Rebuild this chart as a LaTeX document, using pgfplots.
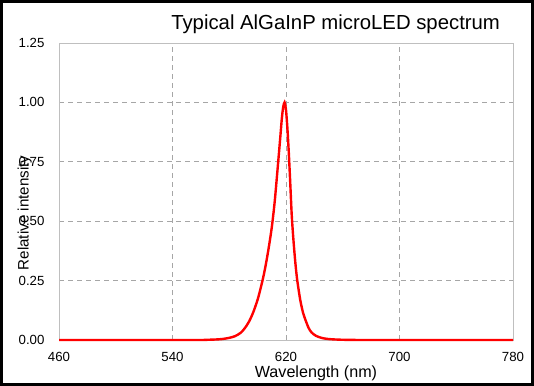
\documentclass[border=0pt]{standalone}
\usepackage{pgfplots}
\pgfplotsset{compat=1.18}
\usepackage{fontspec}
\setmainfont{Liberation Sans}
\definecolor{axgray}{HTML}{BFBFBF}
\definecolor{gridgray}{HTML}{A6A6A6}
\begin{document}
\begin{tikzpicture}
\useasboundingbox (-59bp,-46bp) rectangle (475bp,340bp);
\begin{axis}[
  at={(0,0)}, anchor=south west,
  scale only axis, width=454bp, height=297bp,
  xmin=460, xmax=780, ymin=0, ymax=1.25,
  xtick={460,540,620,700,780},
  ytick={0,0.25,0.5,0.75,1,1.25},
  yticklabel style={/pgf/number format/fixed, /pgf/number format/fixed zerofill, /pgf/number format/precision=2, xshift=-11bp},
  /pgf/number format/assume math mode=true,
  tick style={draw=none},
  axis line style={draw=axgray, line width=0.8bp},
  grid=major,
  major grid style={draw=gridgray, line width=0.8bp, dash pattern=on 5bp off 4bp},
  ticklabel style={font=\fontsize{13.3}{15}\selectfont},
  xticklabel style={yshift=-9bp},
  xlabel={Wavelength (nm)},
  ylabel={Relative intensity},
  xlabel style={at={(axis description cs:0.566,-0.1256)}, anchor=base, font=\fontsize{16.2}{18}\selectfont},
  ylabel style={at={(axis description cs:-0.067,0.4276)}, anchor=base, font=\fontsize{15.2}{18}\selectfont},
  title={Typical AlGaInP microLED spectrum},
  title style={at={(axis description cs:0.979,1.0246)}, anchor=base east, font=\fontsize{20.4}{24}\selectfont},
  clip=false,
]
\addplot[red, line width=2.4bp, smooth, tension=0.45] coordinates {
(460,0) (540,0) (560,0) (565,0.001) (570,0.002) (575,0.004) (580,0.009)
(584,0.016) (588,0.030) (591,0.050) (594,0.078) (597,0.118) (600,0.170)
(602,0.215) (604,0.265) (606,0.325) (608,0.395) (610,0.475) (612,0.580)
(614,0.715) (616,0.855) (617,0.928) (618,0.980) (619,1.000) (620,0.968) (621,0.890)
(622,0.785) (623,0.660) (624,0.530) (625,0.440) (626,0.365) (627,0.300)
(628,0.248) (630,0.170) (632,0.115) (634,0.080) (636,0.050) (638,0.032)
(641,0.018) (645,0.009) (650,0.004) (660,0.001) (680,0) (780,0)
};
\end{axis}
\draw[line width=3bp, black] (-57.5bp,-44.5bp) rectangle (473.5bp,338.5bp);
\end{tikzpicture}
\end{document}
